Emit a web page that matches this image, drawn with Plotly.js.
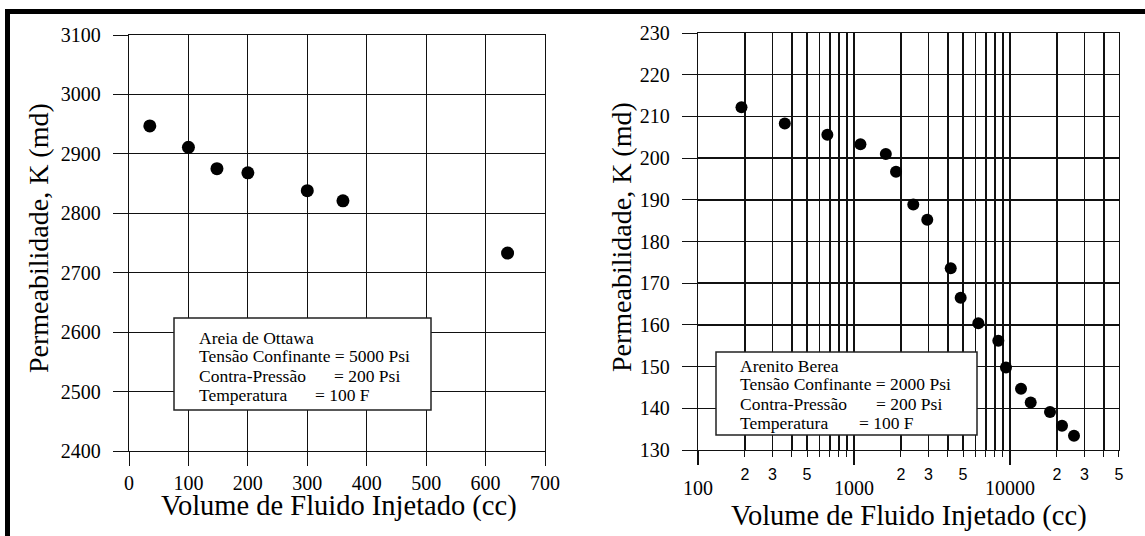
<!DOCTYPE html>
<html>
<head>
<meta charset="utf-8">
<script src="https://cdn.plot.ly/plotly-3.0.1.min.js"></script>
<style>
  html, body { margin: 0; padding: 0; background: #ffffff; }
  #chart { width: 1145px; height: 536px; }
</style>
</head>
<body>
<div id="chart"></div>
<script>
// ---------- data ----------
const ottawaVolume = [35, 100, 148, 200, 300, 360, 637];
const ottawaPerm   = [2947, 2911, 2875, 2868, 2838, 2821, 2733];

const bereaVolume = [190, 360, 675, 1100, 1600, 1860, 2400, 2950, 4170, 4830, 6270, 8420, 9430, 11770, 13580, 18060, 21560, 25730];
const bereaPerm   = [212.2, 208.3, 205.6, 203.3, 201.0, 196.7, 188.9, 185.2, 173.6, 166.5, 160.4, 156.2, 149.8, 144.7, 141.4, 139.1, 135.8, 133.4];

// ---------- tick labels ----------
const leftXTicks  = [0, 100, 200, 300, 400, 500, 600, 700];
const leftYTicks  = [2400, 2500, 2600, 2700, 2800, 2900, 3000, 3100];
const rightYTicks = [130, 140, 150, 160, 170, 180, 190, 200, 210, 220, 230];
const rightMinorVals = [100,200,300,400,500,600,700,800,900,
                        1000,2000,3000,4000,5000,6000,7000,8000,9000,
                        10000,20000,30000,40000,50000];
const rightMinorText = ["","2","3","","5","","","","",
                        "","2","3","","5","","","","",
                        "","2","3","","5"];
const rightDecadeVals = [100, 1000, 10000];
const rightDecadeText = ["100", "1000", "10000"];

// ---------- text ----------
const yTitle = "Permeabilidade, K (md)";
const xTitle = "Volume de Fluido Injetado (cc)";
const leftBoxHead  = ["Areia de Ottawa", "Tensão Confinante = 5000 Psi", "Contra-Pressão", "Temperatura"];
const leftBoxVals  = ["", "", "= 200 Psi", "= 100 F"];
const rightBoxHead = ["Arenito Berea", "Tensão Confinante = 2000 Psi", "Contra-Pressão", "Temperatura"];
const rightBoxVals = ["", "", "= 200 Psi", "= 100 F"];

// ---------- geometry helpers (pixel -> paper) ----------
const W = 1145, H = 536;
const px = v => v / W;
const py = v => 1 - v / H;

const SERIF = "Liberation Serif, Times New Roman, serif";
const SANS = "Liberation Sans, Arial, sans-serif";
const LC = "#111111";

const traces = [
  { x: ottawaVolume, y: ottawaPerm, xaxis: "x", yaxis: "y", type: "scatter", mode: "markers",
    marker: { color: "#000", size: 13 }, hoverinfo: "x+y" },
  { x: bereaVolume, y: bereaPerm, xaxis: "x2", yaxis: "y2", type: "scatter", mode: "markers",
    marker: { color: "#000", size: 12 }, hoverinfo: "x+y" },
  // empty trace so that the overlaid decade-label axis is drawn
  { x: [], y: [], xaxis: "x3", yaxis: "y2", type: "scatter", mode: "markers", hoverinfo: "skip", showlegend: false }
];

function box(x0, y0, x1, y1) {
  return { type: "rect", xref: "paper", yref: "paper", x0: px(x0), x1: px(x1), y0: py(y1), y1: py(y0),
           line: { color: "#222", width: 1.5 }, fillcolor: "#fff", layer: "above" };
}

const annotations = [];
function txt(x, y, t, size, family, extra) {
  annotations.push(Object.assign({ xref: "paper", yref: "paper", x: px(x), y: py(y), text: t, showarrow: false,
    xanchor: "left", yanchor: "middle", font: { family: family || SERIF, size: size, color: "#000" } }, extra || {}));
}
// legend text left
const lLineY = [337.5, 356, 375.5, 395];
const lValX = [0, 0, 332, 313];
leftBoxHead.forEach((t, i) => txt(197, lLineY[i], t, 17.5));
leftBoxVals.forEach((t, i) => { if (t) txt(lValX[i], lLineY[i], t, 17.5); });
// legend text right
const rLineY = [365.5, 384, 404, 423];
const rValX = [0, 0, 874, 857];
rightBoxHead.forEach((t, i) => txt(738, rLineY[i], t, 17.5));
rightBoxVals.forEach((t, i) => { if (t) txt(rValX[i], rLineY[i], t, 17.5); });
// axis titles
txt(339, 506, xTitle, 28.5, SERIF, { xanchor: "center" });
txt(909, 516, xTitle, 28.5, SERIF, { xanchor: "center" });
txt(38, 238, yTitle, 28, SERIF, { xanchor: "center", textangle: -90 });
txt(621, 237, yTitle, 28, SERIF, { xanchor: "center", textangle: -90 });

const axisCommon = {
  ticks: "outside", tickcolor: LC, tickwidth: 1, showgrid: true, gridcolor: LC,
  showline: true, linecolor: LC, linewidth: 1.2, mirror: true, zeroline: false,
  tickfont: { family: SERIF, size: 20, color: "#000" }, fixedrange: true
};

const layout = {
  width: W, height: H,
  margin: { l: 0, r: 0, t: 0, b: 0 },
  paper_bgcolor: "#fff", plot_bgcolor: "#fff",
  showlegend: false,
  xaxis: Object.assign({}, axisCommon, {
    domain: [px(129), px(545)], range: [0, 700], anchor: "y",
    tickmode: "array", tickvals: leftXTicks, ticktext: leftXTicks.map(String),
    ticklen: 14, gridwidth: 1, ticklabelstandoff: 0
  }),
  yaxis: Object.assign({}, axisCommon, {
    domain: [py(451), py(35)], range: [2400, 3100], anchor: "x",
    tickmode: "array", tickvals: leftYTicks, ticktext: leftYTicks.map(String),
    ticklen: 15, gridwidth: 1, ticklabelstandoff: 8
  }),
  xaxis2: Object.assign({}, axisCommon, {
    type: "log", domain: [px(698), px(1119)], range: [1.99995, Math.log10(50000) + 0.00005], anchor: "y2",
    tickmode: "array", tickvals: rightMinorVals, ticktext: rightMinorText,
    ticklen: 6, gridwidth: 1.5, tickfont: { family: SANS, size: 16, color: "#000" }, ticklabelstandoff: 4
  }),
  xaxis3: {
    type: "log", overlaying: "x2", anchor: "y2", side: "bottom",
    range: [1.99995, Math.log10(50000) + 0.00005],
    tickmode: "array", tickvals: rightDecadeVals, ticktext: rightDecadeText,
    ticks: "outside", ticklen: 14, tickcolor: LC, tickwidth: 1.2,
    showgrid: false, showline: false, zeroline: false, fixedrange: true,
    tickfont: { family: SERIF, size: 20, color: "#000" }, ticklabelstandoff: 6
  },
  yaxis2: Object.assign({}, axisCommon, {
    domain: [py(450), py(33)], range: [130, 230], anchor: "x2",
    tickmode: "array", tickvals: rightYTicks, ticktext: rightYTicks.map(String),
    ticklen: 15, gridwidth: 1.5, ticklabelstandoff: 8
  }),
  shapes: [
    box(174, 318, 431, 410),
    box(716, 352, 977, 435),
    { type: "rect", xref: "paper", yref: "paper", x0: px(7.5), x1: 1.05, y0: -0.05, y1: py(11.5),
      line: { color: "#000", width: 5 }, fillcolor: "rgba(0,0,0,0)", layer: "above" }
  ],
  annotations: annotations
};

Plotly.newPlot("chart", traces, layout, { displayModeBar: false, staticPlot: true });
</script>
</body>
</html>
